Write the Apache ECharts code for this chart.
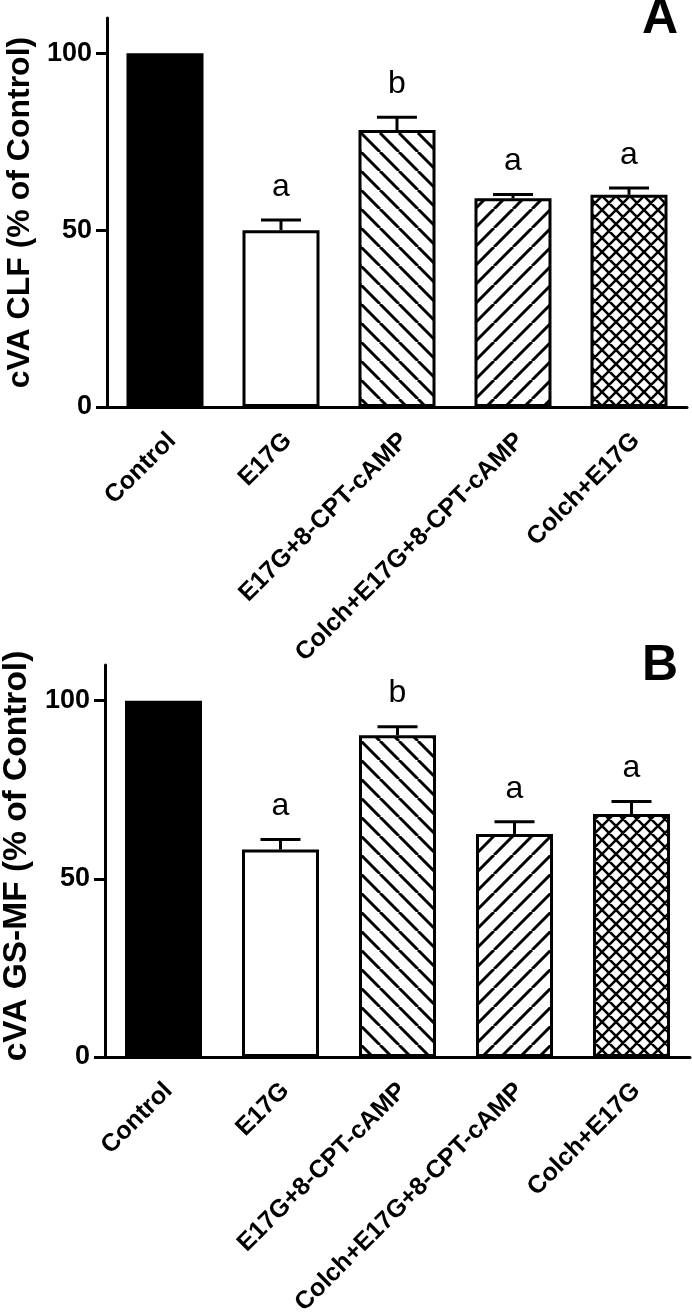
<!DOCTYPE html>
<html>
<head>
<meta charset="utf-8">
<script src="https://cdn.jsdelivr.net/npm/echarts@6/dist/echarts.min.js"></script>
<style>
html,body{margin:0;padding:0;background:#fff;}
#chart{width:692px;height:1313px;}
</style>
</head>
<body>
<div id="chart"></div>
<script>
// ---- data ----
const categories = ['Control', 'E17G', 'E17G+8-CPT-cAMP', 'Colch+E17G+8-CPT-cAMP', 'Colch+E17G'];
const valuesA = [100, 50.0, 78.3, 59.0, 60.0];
const errorsA = [0, 2.9, 3.6, 1.1, 1.9];
const lettersA = ['', 'a', 'b', 'a', 'a'];
const valuesB = [100, 58.2, 90.3, 62.6, 68.2];
const errorsB = [0, 2.8, 2.4, 3.4, 3.5];
const lettersB = ['', 'a', 'b', 'a', 'a'];
const yTicks = [0, 50, 100];
const yTitleA = 'cVA CLF (% of Control)';
const yTitleB = 'cVA GS-MF (% of Control)';
const panelA = 'A';
const panelB = 'B';

// ---- styles ----
const FONT = '"Liberation Sans", Arial, sans-serif';
function hatch(dirs, d, lw) {
  const c = document.createElement('canvas');
  c.width = d; c.height = d;
  const g = c.getContext('2d');
  g.fillStyle = '#fff'; g.fillRect(0, 0, d, d);
  g.strokeStyle = '#000'; g.lineWidth = lw;
  g.beginPath();
  for (const o of [-d, 0, d]) {
    if (dirs.indexOf('\\') >= 0) { g.moveTo(o, 0); g.lineTo(o + d, d); }
    if (dirs.indexOf('/') >= 0) { g.moveTo(o, d); g.lineTo(o + d, 0); }
  }
  g.stroke();
  return { image: c, repeat: 'repeat' };
}
const fills = ['#000', '#fff', hatch('\\', 19, 3), hatch('/', 19, 3), hatch('\\/', 14, 2.6)];

function barSeries(vals, idx) {
  return {
    type: 'bar', xAxisIndex: idx, yAxisIndex: idx,
    barWidth: 77,
    data: vals.map((v, i) => ({ value: v, itemStyle: { color: fills[i], borderColor: '#000', borderWidth: 3 } })),
    z: 3, silent: true, animation: false
  };
}
function errSeries(vals, errs, letters, idx) {
  return {
    type: 'custom', xAxisIndex: idx, yAxisIndex: idx, z: 5, silent: true, animation: false,
    data: vals.map((v, i) => [i, v, errs[i]]),
    renderItem: function (params, api) {
      const i = api.value(0), v = api.value(1), e = api.value(2);
      const p0 = api.coord([i, v]);
      const p1 = api.coord([i, v + e]);
      const ch = [];
      if (e > 0) {
        ch.push({ type: 'line', shape: { x1: p0[0], y1: p0[1], x2: p1[0], y2: p1[1] }, style: { stroke: '#000', lineWidth: 3 } });
        ch.push({ type: 'line', shape: { x1: p1[0] - 20, y1: p1[1], x2: p1[0] + 20, y2: p1[1] }, style: { stroke: '#000', lineWidth: 3 } });
      }
      const t = letters[params.dataIndex];
      if (t) {
        ch.push({ type: 'text', x: p1[0], y: p1[1] - 17, style: { text: t, fill: '#000', font: '32px ' + FONT, align: 'center', verticalAlign: 'bottom' } });
      }
      return { type: 'group', children: ch };
    }
  };
}
function yAxisMain(gi, name, size, shift) {
  return {
    type: 'value', gridIndex: gi, min: 0, max: 110, interval: 50,
    axisLine: { show: true, lineStyle: { color: '#000', width: 3 } },
    axisTick: { show: true, length: 11, lineStyle: { color: '#000', width: 3 }, customValues: yTicks },
    axisLabel: { customValues: yTicks, margin: 15, color: '#000', fontSize: 27, fontWeight: 'bold', fontFamily: FONT },
    splitLine: { show: false },
    name: name, nameLocation: 'middle', nameGap: 70, nameRotate: 90,
    nameTextStyle: { color: '#000', fontSize: size, fontWeight: 'bold', fontFamily: FONT, padding: [0, 0, 0, shift] }
  };
}
function yAxisHidden(gi) {
  return { type: 'value', gridIndex: gi, min: 0, max: 110, show: false };
}
function xAxisMain(gi) {
  return {
    type: 'category', gridIndex: gi, data: categories,
    axisLine: { show: true, lineStyle: { color: '#000', width: 3 } },
    axisTick: { show: false }, axisLabel: { show: false }, splitLine: { show: false }
  };
}
function xAxisLabels(gi) {
  return {
    type: 'category', gridIndex: gi, data: categories,
    axisLine: { show: false }, axisTick: { show: false }, splitLine: { show: false },
    axisLabel: { rotate: 45, margin: 30, interval: 0, color: '#000', fontSize: 25, fontWeight: 'bold', fontFamily: FONT }
  };
}

const chart = echarts.init(document.getElementById('chart'), null, { renderer: 'canvas' });
chart.setOption({
  animation: false,
  backgroundColor: '#fff',
  grid: [
    { left: 107, right: 5, top: 18, height: 389, outerBoundsMode: 'none' },
    { left: 105, right: 2, top: 665, height: 392, outerBoundsMode: 'none' },
    { left: 114, right: -2, top: 18, height: 389, outerBoundsMode: 'none' },
    { left: 110, right: -3, top: 665, height: 392, outerBoundsMode: 'none' }
  ],
  xAxis: [xAxisMain(0), xAxisMain(1), xAxisLabels(2), xAxisLabels(3)],
  yAxis: [yAxisMain(0, yTitleA, 32, 0), yAxisMain(1, yTitleB, 33.5, 10), yAxisHidden(2), yAxisHidden(3)],
  graphic: [
    { type: 'text', right: 14, top: -6, style: { text: panelA, font: 'bold 50px ' + FONT, fill: '#000' } },
    { type: 'text', right: 14, top: 641, style: { text: panelB, font: 'bold 50px ' + FONT, fill: '#000' } }
  ],
  series: [
    barSeries(valuesA, 0), errSeries(valuesA, errorsA, lettersA, 0),
    barSeries(valuesB, 1), errSeries(valuesB, errorsB, lettersB, 1)
  ]
});
</script>
</body>
</html>
